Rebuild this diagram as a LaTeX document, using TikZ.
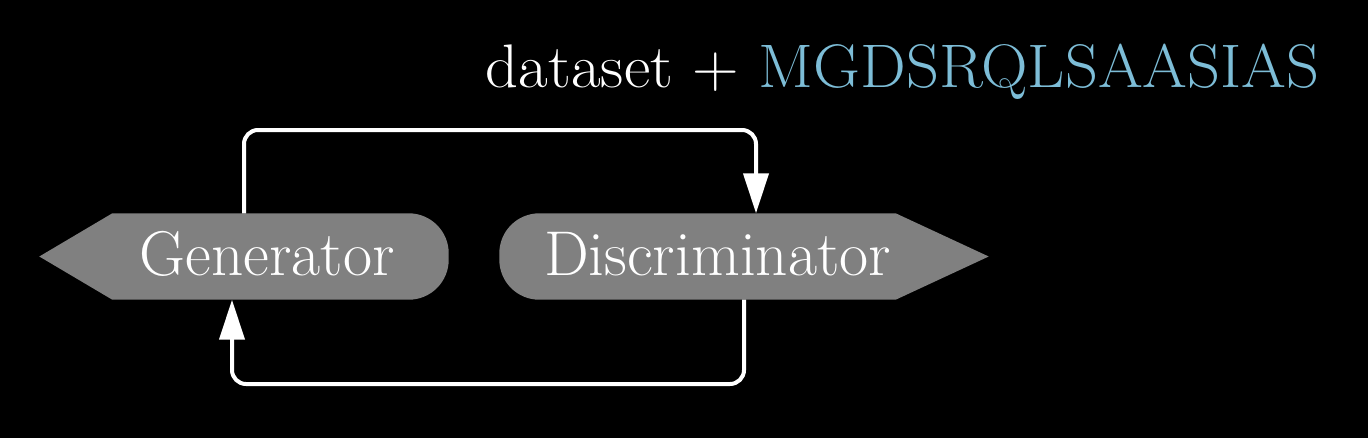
\documentclass[tikz,border=0pt]{standalone}
\usepackage{fontspec}
\usetikzlibrary{arrows.meta,calc}
\definecolor{shapegray}{RGB}{128,128,128}
\definecolor{seqblue}{RGB}{125,189,215}
\pgfdeclarelayer{back}
\pgfsetlayers{back,main}
\tikzset{
  blockbox/.style={draw=none, inner sep=0pt, minimum height=8.5mm, text=white,
    font=\fontsize{18}{21}\selectfont},
  conn/.style={draw=white, line width=0.4mm, rounded corners=1.4mm,
    -{Triangle[width=2.5mm,length=4mm]}},
  shapefill/.style={fill=shapegray},
}
\begin{document}
\begin{tikzpicture}[x=0.1mm,y=-0.1mm]
\begin{pgfonlayer}{back}
\fill[black] (0,0) rectangle (1368,438);
\end{pgfonlayer}
\useasboundingbox (0,0) rectangle (1368,438);

\node[blockbox, minimum width=40.8mm] (gen) at (244,256.5) {\hspace*{4.6mm}\raisebox{0.6mm}{Generator}};
\node[blockbox, minimum width=48.8mm] (dis) at (744,256.5) {\raisebox{0.6mm}{Discriminator}\hspace*{5.3mm}};

\node[anchor=base west, inner sep=0pt, font=\fontsize{17.5}{20}\selectfont] (title) at (485,87)
  {\scalebox{1.05}[1]{\textcolor{white}{dataset +} \textcolor{seqblue}{MGDSRQLSAASIAS}}};

\begin{pgfonlayer}{back}
\fill[shapefill] (gen.west) -- ([xshift=7.3mm]gen.north west)
  [rounded corners=4mm] -- (gen.north east) -- (gen.south east)
  [sharp corners] -- ([xshift=7.3mm]gen.south west) -- cycle;
\fill[shapefill] (dis.east) -- ([xshift=-9.3mm]dis.north east)
  [rounded corners=4mm] -- (dis.north west) -- (dis.south west)
  [sharp corners] -- ([xshift=-9.3mm]dis.south east) -- cycle;
\end{pgfonlayer}

\coordinate (topy) at (0,130);
\coordinate (boty) at (0,384);
\draw[conn] (gen.north) -- (gen.north |- topy) -| ([xshift=1.2mm]dis.north);
\draw[conn] (dis.south) -- (dis.south |- boty) -| ([xshift=-1.2mm]gen.south);
\end{tikzpicture}
\end{document}
